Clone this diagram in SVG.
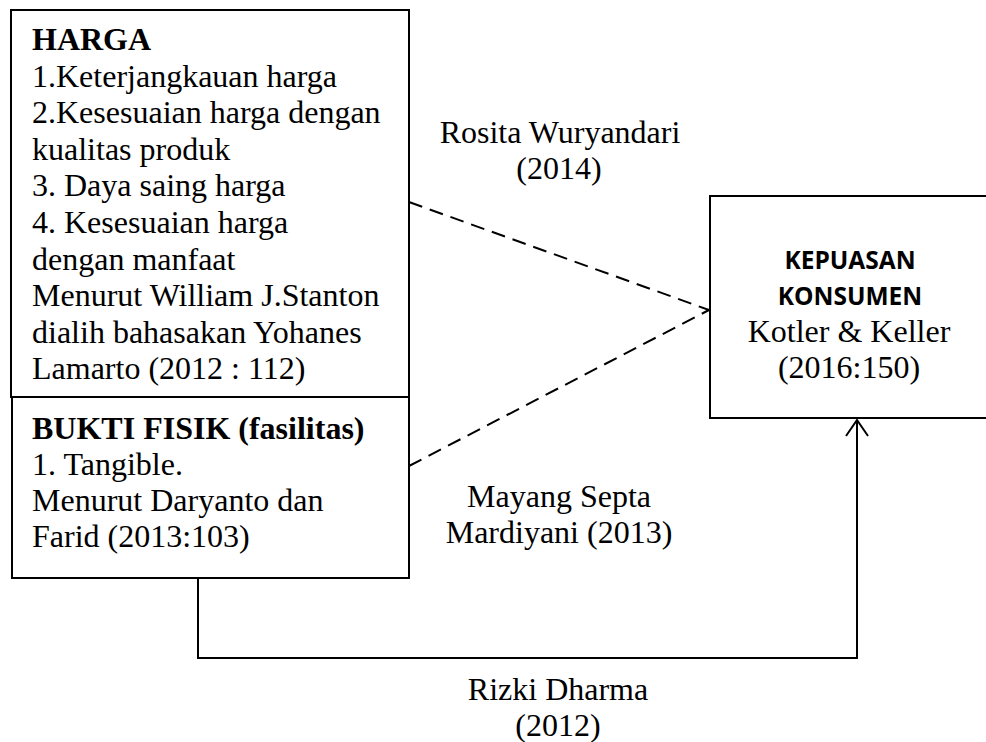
<svg xmlns="http://www.w3.org/2000/svg" width="986" height="742" viewBox="0 0 986 742">
  <defs>
    <marker id="openArrow" viewBox="0 0 20 24" refX="18" refY="12" markerWidth="20" markerHeight="24" markerUnits="userSpaceOnUse" orient="auto">
      <path d="M 2 1 L 18 12 L 2 23" fill="none" stroke="#000" stroke-width="2"/>
    </marker>
    <style>
      .box { fill: #fff; stroke: #000; stroke-width: 2; }
      .t { font-family: "Liberation Serif", "Times New Roman", serif; font-size: 32px; fill: #000; }
      .b { font-weight: bold; }
      .s { font-family: "Open Sans", "Liberation Sans", Arial, sans-serif; font-weight: bold; font-size: 24.5px; fill: #000; }
      .c { text-anchor: middle; }
      .dash { fill: none; stroke: #000; stroke-width: 2; stroke-dasharray: 14 8; }
      .solid { fill: none; stroke: #000; stroke-width: 2; }
    </style>
  </defs>
  <rect width="986" height="742" fill="#fff"/>

  <g id="connectors">
    <line class="dash" x1="409" y1="202" x2="709" y2="310"/>
    <line class="dash" x1="409" y1="466" x2="709" y2="310"/>
    <polyline class="solid" points="198,578 198,658 857,658 857,420" marker-end="url(#openArrow)"/>
  </g>

  <g id="harga">
    <rect class="box" x="11" y="10" width="398" height="387"/>
    <text class="t b" x="32" y="50">HARGA</text>
    <text class="t" x="32" y="86.6">1.Keterjangkauan harga</text>
    <text class="t" x="32" y="123.2">2.Kesesuaian harga dengan</text>
    <text class="t" x="32" y="159.8">kualitas produk</text>
    <text class="t" x="32" y="196.4">3. Daya saing harga</text>
    <text class="t" x="32" y="233">4. Kesesuaian harga</text>
    <text class="t" x="32" y="269.6">dengan manfaat</text>
    <text class="t" x="32" y="306.2">Menurut William J.Stanton</text>
    <text class="t" x="32" y="342.8">dialih bahasakan Yohanes</text>
    <text class="t" x="32" y="379.4">Lamarto (2012 : 112)</text>
  </g>

  <g id="bukti-fisik">
    <rect class="box" x="12" y="397" width="397" height="181"/>
    <text class="t b" x="32" y="439">BUKTI FISIK (fasilitas)</text>
    <text class="t" x="32" y="475">1. Tangible.</text>
    <text class="t" x="32" y="511">Menurut Daryanto dan</text>
    <text class="t" x="32" y="547">Farid (2013:103)</text>
  </g>

  <g id="kepuasan-konsumen">
    <rect class="box" x="710" y="196" width="282" height="222"/>
    <text class="s c" x="850" y="269">KEPUASAN</text>
    <text class="s c" x="850" y="305">KONSUMEN</text>
    <text class="t c" x="849" y="342">Kotler &amp; Keller</text>
    <text class="t c" x="849" y="378">(2016:150)</text>
  </g>

  <g id="labels">
    <text class="t c" x="560" y="143">Rosita Wuryandari</text>
    <text class="t c" x="559" y="179">(2014)</text>
    <text class="t c" x="559" y="507">Mayang Septa</text>
    <text class="t c" x="559" y="543">Mardiyani (2013)</text>
    <text class="t c" x="558" y="700">Rizki Dharma</text>
    <text class="t c" x="558" y="736">(2012)</text>
  </g>
</svg>
